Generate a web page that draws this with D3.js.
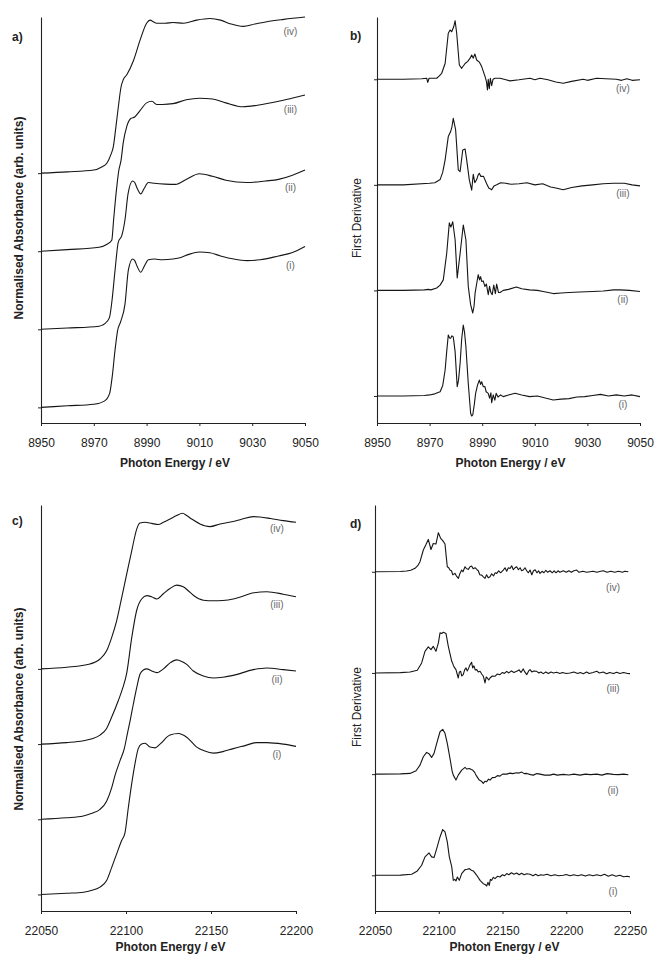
<!DOCTYPE html>
<html>
<head>
<meta charset="utf-8">
<script src="https://cdn.jsdelivr.net/npm/d3@7"></script>
<style>
  body { margin: 0; background: #fff; }
  svg { display: block; font-family: "Liberation Sans", Arial, sans-serif; }
</style>
</head>
<body>
<div id="chart"></div>
<script>
// ---- data: [photon energy eV, value] ----
// a) Cu K-edge normalised absorbance
const aI = [[8950,0],[8960,0.01],[8970,0.02],[8974,0.04],[8976,0.09],[8977,0.2],[8978,0.36],[8979,0.49],[8980.2,0.55],[8981.8,0.66],[8983.1,0.88],[8984.7,0.95],[8985.5,0.94],[8986.5,0.9],[8987.8,0.865],[8989,0.9],[8990.7,0.945],[8993,0.95],[8996,0.945],[9000,0.95],[9003,0.96],[9006,0.98],[9010,0.995],[9014,0.99],[9018,0.97],[9023,0.95],[9028,0.94],[9033,0.945],[9040,0.97],[9045,0.99],[9050,1.03]];
const aII = [[8950,0],[8960,0.008],[8972,0.02],[8975,0.05],[8976,0.08],[8977,0.2],[8978,0.37],[8979.3,0.56],[8980.6,0.6],[8981.8,0.7],[8983,0.87],[8984.7,0.95],[8985.5,0.94],[8986.5,0.9],[8987.8,0.867],[8989,0.9],[8990.7,0.94],[8993,0.935],[8997,0.93],[9001,0.928],[9005,0.96],[9010,0.996],[9015,0.98],[9020,0.955],[9028,0.94],[9035,0.95],[9040,0.96],[9045,0.985],[9050,1.02]];
const aIII = [[8950,0],[8960,0.01],[8972,0.025],[8975,0.045],[8976.8,0.07],[8977.5,0.2],[8978.5,0.38],[8979.5,0.52],[8980.3,0.58],[8981.2,0.7],[8982.5,0.8],[8984,0.85],[8985.5,0.86],[8987.5,0.9],[8990,0.95],[8992,0.96],[8993.8,0.94],[8996,0.94],[9000,0.945],[9005,0.97],[9010,0.98],[9015,0.975],[9020,0.95],[9026.5,0.925],[9032,0.935],[9040,0.96],[9045,0.98],[9050,1.0]];
const aIV = [[8950,0],[8960,0.008],[8970,0.02],[8973,0.04],[8975,0.065],[8976.5,0.12],[8977.4,0.17],[8978.4,0.3],[8979.3,0.425],[8980.3,0.55],[8981.2,0.6],[8982.5,0.63],[8985,0.72],[8987.5,0.85],[8990,0.96],[8991.3,0.98],[8992.5,0.97],[8993.8,0.96],[8997,0.96],[9000,0.965],[9004,0.96],[9009,0.98],[9014,0.99],[9018,0.98],[9022,0.955],[9026.6,0.94],[9031,0.955],[9035.5,0.97],[9042,0.985],[9050,1.0]];

// b) Cu K-edge first derivative
const bI = [[8950,0],[8960,0],[8968,0.05],[8970,0.1],[8972,0.2],[8974,0.4],[8975,1.0],[8975.9,2.46],[8976.5,4.2],[8977.1,5.78],[8977.6,5.5],[8978,5.46],[8978.5,5.7],[8979,5.6],[8979.7,4.2],[8980.5,0.88],[8981,1.5],[8981.6,3.1],[8982.2,5.4],[8982.8,6.72],[8983.3,6.0],[8983.8,4.67],[8984.7,1.2],[8985.6,-1.64],[8986,-1.9],[8986.4,-1.8],[8987,-0.8],[8987.5,0.25],[8988.2,1.0],[8988.9,1.5],[8989.4,1.1],[8989.8,1.35],[8990.4,0.88],[8991,0.9],[8991.5,0.4],[8992.3,0.25],[8992.8,-0.2],[8993.3,0.3],[8993.6,-0.63],[8994.2,0.1],[8994.8,-0.4],[8995.3,0.25],[8996,-0.1],[8997,0.1],[8998,-0.06],[9000,0.1],[9002.5,0.25],[9005,0.1],[9008,-0.06],[9011,0],[9014,-0.2],[9017,-0.38],[9020,-0.3],[9023,-0.25],[9026,-0.1],[9029,-0.06],[9032,0.05],[9035,0.15],[9038,0],[9041,0.1],[9044,0],[9047,0.1],[9050,-0.06]];
const bII = [[8950,0],[8960,0],[8968,0.05],[8969.5,0.1],[8970.5,0.05],[8972.7,0.23],[8974,0.5],[8975.2,1.0],[8976.5,3.5],[8977.5,6.4],[8978.1,6.0],[8978.8,6.5],[8979.7,4.8],[8980.5,1.17],[8981.6,3.5],[8982.8,6.2],[8983.8,4.8],[8984.7,0.38],[8985.6,-1.35],[8986.4,-2.14],[8986.9,-1.5],[8987.3,-0.25],[8988,0.8],[8988.5,1.49],[8989,1.0],[8989.4,1.3],[8989.8,0.85],[8990.4,0.9],[8991,0.38],[8991.6,0.6],[8992.3,-0.4],[8992.8,0.38],[8993.3,-0.2],[8993.8,-0.4],[8994.4,0.5],[8995,-0.3],[8995.5,0.6],[8996.2,-0.2],[8996.8,-0.2],[8998,0],[9000,0.1],[9003,0.32],[9005,0.15],[9008,0.05],[9011,0],[9013.2,-0.1],[9017,-0.3],[9020,-0.25],[9023,-0.2],[9027,-0.15],[9032,-0.1],[9036,-0.05],[9040,0.05],[9042.4,0.05],[9046,0],[9050,-0.1]];
const bIII = [[8950,0],[8960,0],[8970,0.15],[8972,0.2],[8974,0.5],[8975,1.2],[8975.9,2.37],[8977.1,4.57],[8978,5.05],[8978.5,5.5],[8979,6.3],[8979.9,5.2],[8980.9,1.42],[8981.6,1.26],[8982.6,3.3],[8983.5,3.4],[8984.1,2.37],[8985.1,0.47],[8986,-0.5],[8986.6,1.0],[8987.2,0.2],[8987.9,0.5],[8988.4,0.9],[8988.9,1.1],[8989.5,0.8],[8990.5,0.8],[8991.7,0.1],[8992.5,-0.3],[8993.6,-0.47],[8994.5,-0.1],[8995.5,0],[8997,0.2],[8999,0.15],[9001,0.05],[9004,0.1],[9007,0.2],[9010,0],[9013,0.1],[9016,-0.2],[9018,-0.3],[9020.8,-0.47],[9024,-0.25],[9028,-0.1],[9032,0],[9036,0.1],[9040,0.15],[9044,0.15],[9047,0],[9050,-0.1]];
const bIV = [[8950,0],[8960,0],[8967,0.05],[8968.9,0.1],[8969.3,-0.3],[8969.8,0.1],[8972.7,0.1],[8973.6,0.3],[8974.6,0.57],[8975.9,1.5],[8977.1,4.36],[8977.8,4.67],[8978.4,4.5],[8979.2,5.0],[8979.7,5.55],[8980.3,4.36],[8981.3,1.35],[8982.2,1.04],[8983.5,1.5],[8984.5,1.7],[8985.4,2.0],[8986,2.3],[8986.6,2.0],[8987.2,2.4],[8987.9,1.83],[8989,1.6],[8989.8,1.2],[8991.1,0.25],[8991.6,-0.2],[8992,-1.0],[8992.3,0],[8992.7,-0.9],[8993.1,0.1],[8993.6,-0.6],[8994.1,0],[8994.9,0.1],[8996.8,0.1],[8999,-0.05],[9000.6,-0.15],[9004,-0.05],[9008.2,0.1],[9010,-0.05],[9012,0.1],[9015,-0.05],[9018,-0.25],[9020.8,-0.38],[9024,-0.2],[9028.4,0],[9030,-0.1],[9033.5,0.1],[9037,0.05],[9041,0],[9043,-0.1],[9045,0.05],[9047,-0.1],[9050,-0.05]];

// c) Ag K-edge normalised absorbance
const cI = [[22050,0],[22065,0.008],[22075,0.015],[22080,0.028],[22084.7,0.049],[22088.6,0.093],[22091.6,0.18],[22094.5,0.27],[22097.5,0.36],[22099.4,0.41],[22101.4,0.58],[22103.4,0.74],[22105.3,0.87],[22107.2,0.97],[22109.2,1.0],[22111.2,1.006],[22114.1,0.98],[22117.1,0.975],[22120,1.0],[22125.9,1.06],[22130.8,1.07],[22135.7,1.046],[22141.6,0.98],[22146,0.955],[22151.4,0.94],[22157,0.95],[22163.1,0.97],[22170,0.99],[22176.9,1.01],[22182.8,1.01],[22192.5,1.0],[22200,0.985]];
const cII = [[22050,0],[22065,0.01],[22074.9,0.022],[22080,0.04],[22084.7,0.066],[22088.6,0.12],[22091.6,0.21],[22093.5,0.29],[22096.5,0.39],[22099,0.47],[22101,0.58],[22102.5,0.66],[22104.3,0.765],[22106.3,0.875],[22108.2,0.964],[22110.2,0.993],[22112.2,1.0],[22115.1,0.986],[22118.1,0.975],[22122,1.0],[22125.9,1.04],[22129.8,1.06],[22132.8,1.05],[22135.7,1.03],[22139.6,0.986],[22145.5,0.953],[22151.4,0.94],[22157,0.945],[22163.1,0.957],[22174.9,0.995],[22182.8,1.006],[22192.5,0.995],[22200,0.986]];
const cIII = [[22050,0],[22065,0.01],[22074.9,0.022],[22080,0.035],[22084.7,0.06],[22088.6,0.104],[22091.6,0.18],[22095.5,0.29],[22098,0.37],[22100.4,0.47],[22103.4,0.71],[22106.3,0.89],[22109.2,0.965],[22112.2,0.987],[22115,0.98],[22118.1,0.965],[22122,1.0],[22125.9,1.035],[22129.8,1.057],[22133.7,1.046],[22136.6,1.02],[22139.6,0.99],[22145.5,0.957],[22151.4,0.953],[22157,0.955],[22163.1,0.965],[22169,0.985],[22174.9,1.006],[22182.8,1.013],[22192.5,0.997],[22200,0.98]];
const cIV = [[22050,0],[22065.1,0.011],[22078.8,0.033],[22084.7,0.066],[22088.6,0.12],[22091.6,0.21],[22094.5,0.32],[22097.5,0.476],[22100.4,0.63],[22103.4,0.787],[22106.3,0.93],[22108.2,0.97],[22111.2,0.975],[22115.1,0.968],[22119,0.96],[22122,0.975],[22125.9,0.997],[22129.8,1.02],[22133.3,1.035],[22135.7,1.02],[22138.6,0.997],[22143.5,0.964],[22149.4,0.946],[22155.3,0.964],[22163.1,0.98],[22168,0.995],[22174.9,1.013],[22178.8,1.01],[22185,1.0],[22192.5,0.986],[22200,0.975]];

// d) Ag K-edge first derivative
const dI = [[22050,0],[22070,0.02],[22078.8,0.1],[22083.2,0.43],[22086.6,0.99],[22089.2,1.82],[22092.4,2.21],[22094.4,1.82],[22096.3,1.75],[22098.4,2.64],[22101,3.79],[22103.1,4.52],[22104.9,4.29],[22106.7,3.3],[22108.3,1.82],[22110.2,0.83],[22111.4,-0.5],[22112.5,-0.4],[22113.5,-0.56],[22114.6,-0.17],[22116.1,-0.5],[22118,0.17],[22120.6,0.56],[22122.3,0.6],[22124,0.66],[22125.6,0.5],[22127.1,0.43],[22129.8,0],[22132.4,-0.5],[22134.9,-0.83],[22136.3,-0.9],[22137.6,-1.06],[22138.6,-0.7],[22139.6,-1.0],[22140.5,-0.4],[22141.5,-0.5],[22142.8,-0.2],[22144.1,-0.33],[22146,-0.1],[22148,-0.17],[22150,0.05],[22151.5,-0.05],[22153.3,0.17],[22155,0.05],[22157,0.25],[22159,0.1],[22161.1,0.23],[22163,0.05],[22165,0.2],[22167,0.05],[22169,0.15],[22171.6,0.1],[22174,-0.05],[22176,0.1],[22178,-0.05],[22180,0.05],[22182,0],[22185,0.1],[22188,-0.05],[22191,0.05],[22194,-0.05],[22197.7,0],[22200,0.08],[22203,-0.05],[22206,0.05],[22209,-0.05],[22212,0.05],[22215,-0.08],[22218,0.05],[22221,-0.05],[22224,0.05],[22227,-0.05],[22230,0.1],[22233,-0.1],[22236,0.05],[22239,-0.1],[22242,0],[22245,-0.15],[22248,-0.1],[22250,-0.17]];
const dII = [[22050,0],[22070,0.02],[22077.5,0.07],[22082.2,0.33],[22085.3,0.89],[22087.9,1.72],[22090.5,2.15],[22092.6,1.98],[22094.4,1.65],[22096.3,2.05],[22098.4,3.04],[22101,4.19],[22103.1,4.42],[22104.9,4.03],[22106.7,3.04],[22108.8,1.55],[22110.5,0.3],[22111.4,-0.1],[22113.5,-0.59],[22115.3,-0.1],[22118,0.4],[22120.6,0.66],[22122,0.5],[22124,0.56],[22125.5,0.45],[22126.6,0.4],[22128,0.2],[22129.2,-0.1],[22131.8,-0.59],[22133.5,-0.7],[22134.9,-0.92],[22136.3,-0.7],[22137.6,-0.76],[22139,-0.5],[22140.2,-0.59],[22142,-0.35],[22144.1,-0.33],[22146,-0.15],[22148,-0.2],[22150,0],[22153.3,0],[22156,0.1],[22158,0.05],[22161.1,0.13],[22163,0.1],[22165.1,0.2],[22167,0.05],[22169,0.07],[22172,-0.05],[22174.2,-0.1],[22177,0.05],[22179.4,0],[22183,-0.1],[22187.3,-0.1],[22190,0],[22193,-0.1],[22197.7,-0.03],[22202,-0.08],[22206,0],[22210.8,-0.1],[22215,0],[22219,-0.05],[22223.9,0],[22228,-0.1],[22232,0.05],[22236.9,-0.03],[22241,-0.05],[22245,0],[22248.7,-0.07]];
const dIII = [[22050,0],[22070,0.03],[22077.5,0.1],[22083.2,0.26],[22086.6,0.99],[22089.2,2.14],[22091.8,2.57],[22093.9,2.3],[22095.7,2.63],[22097.8,2.14],[22099.7,2.97],[22101,3.96],[22102.3,3.9],[22103.6,4.02],[22105.7,3.89],[22107.5,2.63],[22110.2,1.15],[22112,0.6],[22113.5,0.33],[22115.3,-0.5],[22116.2,0.1],[22117.2,0.16],[22118,-0.3],[22119.2,-0.17],[22120.3,0.3],[22121.4,0.5],[22122.3,0.2],[22123.2,0.4],[22124.5,0.8],[22125.8,1.05],[22126.6,0.5],[22127.6,0.7],[22128.6,0.3],[22129.8,0.33],[22131,0.1],[22132.4,0.16],[22133.7,-0.1],[22135,-0.33],[22136.3,-0.99],[22137.2,-0.4],[22138.1,-0.5],[22139.2,-0.7],[22140.2,-0.5],[22142,-0.3],[22144.1,-0.33],[22146,-0.1],[22148,-0.17],[22150,0.05],[22151.5,-0.05],[22153.3,0.16],[22155,0],[22157,0.2],[22159,0.05],[22161.1,0.16],[22163,0.3],[22164.5,0.05],[22166.3,0.4],[22167.5,0.1],[22169,-0.17],[22170.5,0.2],[22171.6,0.33],[22173,0.1],[22174.5,0.2],[22176.8,0.16],[22178.5,0],[22180,0.1],[22182,-0.07],[22184,0.1],[22186,-0.05],[22188,0.1],[22190,0],[22192.5,0.07],[22195,-0.05],[22197,0.05],[22200,-0.05],[22203,0],[22206,0.1],[22209,-0.05],[22211,0.05],[22213.4,-0.07],[22216,0.1],[22218,-0.05],[22221,0.05],[22223.9,0.16],[22226,0],[22229,0.1],[22231.7,-0.07],[22234,0.05],[22237,-0.05],[22239.6,0.07],[22242,-0.05],[22245,0.05],[22248,-0.05],[22250,-0.07]];
const dIV = [[22050,0],[22070,0.03],[22074.8,0.07],[22078,0.15],[22081.4,0.34],[22083.5,0.6],[22085.3,1.0],[22087.9,2.15],[22090,2.7],[22091.8,3.2],[22093.9,2.2],[22095.7,2.8],[22097.8,2.74],[22099.7,3.86],[22101.5,3.3],[22103,3.1],[22104.9,2.74],[22105.8,1.6],[22106.7,0.5],[22107.8,0.4],[22108.8,0.17],[22110,0.1],[22111,-0.3],[22112.7,-0.16],[22113.8,-0.4],[22115.4,-0.65],[22116.5,-0.2],[22118,0.17],[22119,0],[22120.6,0.5],[22121.8,0.3],[22123.2,0.24],[22124.5,0.5],[22125.8,0.57],[22127,0.3],[22128.5,0.4],[22129.8,0.24],[22131,0.1],[22132.2,-0.3],[22133.7,-0.33],[22135,-0.5],[22136.3,-0.65],[22137.5,-0.3],[22138.8,-0.6],[22140.2,-0.5],[22141.5,-0.2],[22143,-0.4],[22144.3,-0.1],[22145.5,-0.16],[22147,0.1],[22148.5,-0.1],[22150.6,0.17],[22152,0.4],[22153.3,0.05],[22154.6,0.4],[22155.9,0.33],[22157.2,0.6],[22158.5,0.2],[22159.8,0.4],[22161.1,0.5],[22162.5,0.2],[22163.8,0.4],[22165,0.1],[22166.3,0.17],[22167.6,0.4],[22169,0.1],[22170.3,-0.1],[22171.6,0.17],[22173,-0.3],[22174.3,0.1],[22175.6,0.2],[22177,-0.1],[22178.3,0.1],[22179.4,-0.16],[22181,0.05],[22182.5,-0.1],[22184,0.15],[22185.5,-0.05],[22187.3,0.1],[22189,-0.1],[22190.5,0.1],[22192,-0.1],[22193.5,0.1],[22195,-0.05],[22197.7,0.1],[22200,-0.05],[22202,0.1],[22204,-0.05],[22206,0.1],[22208.2,0.17],[22210,-0.05],[22213,0.05],[22216,-0.05],[22218.6,0],[22221,0.05],[22224,-0.05],[22227,0.05],[22229.1,0.1],[22232,-0.05],[22235,0.05],[22238,-0.05],[22241,0.05],[22244,-0.05],[22246,0.05],[22248.7,0]];

const seriesLabels = ['(i)', '(ii)', '(iii)', '(iv)'];
const absOffsets = [0, 0.5, 1.0, 1.5];
const derivOffsets = [0, 10, 20, 30];
const cuTicks = [8950, 8970, 8990, 9010, 9030, 9050];
const agTicksC = [22050, 22100, 22150, 22200];
const agTicksD = [22050, 22100, 22150, 22200, 22250];

const width = 655, height = 956;
const svg = d3.select('#chart').append('svg')
    .attr('width', width)
    .attr('height', height);

const panels = [
    { tag: 'a)', curves: [aI, aII, aIII, aIV], offsets: absOffsets, xDomain: [8950, 9050], xRange: [41, 305],
      yDomain: [-0.1, 2.5], yRange: [423, 17], ticks: cuTicks, yTitle: 'Normalised Absorbance (arb. units)', bold: true,
      titleX: 19, titleY: 218, xTitleY: 467, tagX: 12, tagY: 41, labelE: 9044.5, labelDy: -142, smooth: true },
    { tag: 'b)', curves: [bI, bII, bIII, bIV], offsets: derivOffsets, xDomain: [8950, 9050], xRange: [377, 640],
      yDomain: [-2.56, 35.9], yRange: [423, 17], ticks: cuTicks, yTitle: 'First Derivative', bold: false,
      titleX: 357, titleY: 218, xTitleY: 467, tagX: 350, tagY: 40, labelE: 9043.5, labelDy: 9, smooth: false },
    { tag: 'c)', curves: [cI, cII, cIII, cIV], offsets: absOffsets, xDomain: [22050, 22200], xRange: [41, 296],
      yDomain: [-0.11, 2.59], yRange: [911, 505], ticks: agTicksC, yTitle: 'Normalised Absorbance (arb. units)', bold: true,
      titleX: 19, titleY: 709, xTitleY: 951, tagX: 12, tagY: 525, labelE: 22188.8, labelDy: -140, smooth: true },
    { tag: 'd)', curves: [dI, dII, dIII, dIV], offsets: derivOffsets, xDomain: [22050, 22250], xRange: [375, 630],
      yDomain: [-3.53, 36.6], yRange: [911, 505], ticks: agTicksD, yTitle: 'First Derivative', bold: false,
      titleX: 357, titleY: 707, xTitleY: 951, tagX: 350, tagY: 528, labelE: 22236.7, labelDy: 16, smooth: false }
];

panels.forEach(p => {
    const g = svg.append('g');
    const x = d3.scaleLinear().domain(p.xDomain).range(p.xRange);
    const y = d3.scaleLinear().domain(p.yDomain).range(p.yRange);

    // x axis
    const xAxis = g.append('g')
        .attr('transform', `translate(0,${p.yRange[0]})`)
        .call(d3.axisBottom(x).tickValues(p.ticks).tickFormat(d3.format('d')).tickSize(3).tickSizeOuter(0));
    xAxis.select('.domain').attr('stroke', '#222').attr('stroke-width', 1.1);
    xAxis.selectAll('.tick line').attr('stroke', '#222');
    xAxis.selectAll('.tick text')
        .attr('y', 15)
        .attr('font-size', 12)
        .attr('fill', '#222')
        .attr('font-family', '"Liberation Sans", Arial, sans-serif');

    // y axis: plain line, little ticks at the curve baselines
    const yAxis = g.append('g')
        .attr('transform', `translate(${p.xRange[0]},0)`)
        .call(d3.axisLeft(y).tickValues(p.offsets).tickFormat('').tickSize(3).tickSizeOuter(0));
    yAxis.select('.domain').attr('stroke', '#222').attr('stroke-width', 1.1);
    yAxis.selectAll('.tick line').attr('stroke', '#222');

    // axis titles
    g.append('text')
        .attr('x', (p.xRange[0] + p.xRange[1]) / 2 + 2)
        .attr('y', p.xTitleY)
        .attr('text-anchor', 'middle')
        .attr('font-size', 12)
        .attr('font-weight', 'bold')
        .attr('fill', '#222')
        .text('Photon Energy / eV');

    g.append('text')
        .attr('transform', `translate(${p.titleX + 4},${p.titleY}) rotate(-90)`)
        .attr('text-anchor', 'middle')
        .attr('font-size', 12)
        .attr('font-weight', p.bold ? 'bold' : 'normal')
        .attr('fill', '#222')
        .text(p.yTitle);

    g.append('text')
        .attr('x', p.tagX)
        .attr('y', p.tagY)
        .attr('font-size', 12)
        .attr('font-weight', 'bold')
        .attr('fill', '#222')
        .text(p.tag);

    const line = d3.line()
        .x(d => x(d[0]))
        .y(d => y(d[1]))
        .curve(p.smooth ? d3.curveMonotoneX : d3.curveLinear);

    p.curves.forEach((data, i) => {
        const off = p.offsets[i];
        g.append('path')
            .datum(data.map(d => [d[0], d[1] + off]))
            .attr('fill', 'none')
            .attr('stroke', '#151515')
            .attr('stroke-width', 1.1)
            .attr('stroke-linejoin', 'round')
            .attr('d', line);

        g.append('text')
            .attr('x', x(p.labelE))
            .attr('y', y(off) + p.labelDy)
            .attr('dy', '0.35em')
            .attr('text-anchor', 'middle')
            .attr('font-size', 10)
            .attr('fill', '#666')
            .text(seriesLabels[i]);
    });
});
</script>
</body>
</html>
